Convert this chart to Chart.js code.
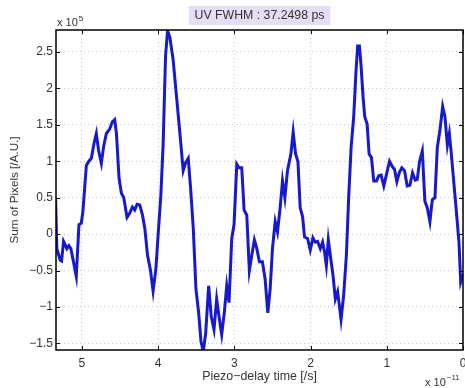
<!DOCTYPE html>
<html>
<head>
<meta charset="utf-8">
<script src="https://cdn.jsdelivr.net/npm/chart.js@4/dist/chart.umd.min.js"></script>
<style>
  html, body { margin: 0; padding: 0; background: #fff; }
  #wrap { width: 465px; height: 388px; }
</style>
</head>
<body>
<div id="wrap"><canvas id="scanChart" width="465" height="388"></canvas></div>
<script>
// Piezo delay (x 1e-11 s) and summed pixel signal (x 1e5 A.U.)
const delayTimes = [
    5.346, 5.329, 5.284, 5.267, 5.241, 5.214, 5.197, 5.171, 5.145, 5.118,
    5.074, 5.039, 5.008, 4.987, 4.942, 4.908, 4.876, 4.842, 4.811, 4.780,
    4.745, 4.714, 4.679, 4.636, 4.600, 4.570, 4.547, 4.513, 4.482, 4.451,
    4.408, 4.372, 4.337, 4.307, 4.276, 4.241, 4.205, 4.175, 4.139, 4.100,
    4.066, 4.030, 4.000, 3.964, 3.934, 3.903, 3.876, 3.846, 3.803, 3.758,
    3.714, 3.671, 3.639, 3.605, 3.574, 3.539, 3.504, 3.468, 3.438, 3.408,
    3.376, 3.337, 3.303, 3.267, 3.232, 3.201, 3.166, 3.132, 3.100, 3.070,
    3.034, 3.004, 2.968, 2.938, 2.903, 2.872, 2.837, 2.803, 2.771, 2.737,
    2.705, 2.671, 2.632, 2.596, 2.561, 2.530, 2.500, 2.464, 2.434, 2.399,
    2.368, 2.337, 2.303, 2.258, 2.228, 2.197, 2.166, 2.136, 2.105, 2.079,
    2.039, 2.004, 1.969, 1.938, 1.908, 1.872, 1.842, 1.816, 1.793, 1.767,
    1.741, 1.705, 1.675, 1.645, 1.600, 1.566, 1.530, 1.500, 1.468, 1.434,
    1.403, 1.382, 1.359, 1.337, 1.311, 1.289, 1.258, 1.232, 1.201, 1.171,
    1.136, 1.105, 1.074, 1.039, 1.004, 0.964, 0.929, 0.899, 0.868, 0.837,
    0.803, 0.767, 0.732, 0.697, 0.662, 0.626, 0.600, 0.570, 0.534, 0.500,
    0.468, 0.434, 0.403, 0.368, 0.337, 0.303, 0.267, 0.237, 0.205, 0.179,
    0.153, 0.118, 0.087, 0.053, 0.030, 0.004, 0.000
];
const pixelSums = [
    0.50, -0.20, -0.36, -0.37, -0.10, -0.16, -0.20, -0.16, -0.20, -0.34,
    -0.58, 0.13, 0.15, 0.31, 0.94, 1.00, 1.04, 1.24, 1.38, 1.14,
    0.97, 1.21, 1.38, 1.44, 1.54, 1.57, 1.38, 0.77, 0.56, 0.50,
    0.23, 0.29, 0.37, 0.33, 0.41, 0.40, 0.26, 0.08, -0.29, -0.50,
    -0.78, -0.48, -0.01, 0.54, 1.24, 2.44, 2.79, 2.70, 2.39, 1.88,
    1.38, 0.87, 0.98, 1.04, 0.63, 0.08, -0.75, -1.08, -1.47, -1.61,
    -1.36, -0.71, -1.13, -1.31, -0.89, -1.13, -1.38, -1.08, -0.71, -0.94,
    -0.06, 0.13, 0.96, 0.91, 0.91, 0.33, 0.26, -0.50, -0.29, -0.08,
    -0.20, -0.38, -0.38, -0.62, -1.08, -0.75, -0.20, 0.17, 0.03, 0.36,
    0.73, 0.50, 0.87, 1.10, 1.40, 1.10, 1.00, 0.36, 0.24, -0.04,
    -0.06, -0.22, -0.05, -0.11, -0.10, -0.20, -0.11, -0.25, -0.43, -0.08,
    -0.29, -0.57, -0.89, -0.79, -1.17, -0.84, -0.29, 0.50, 1.19, 1.61,
    2.25, 2.58, 2.58, 2.30, 1.88, 1.61, 1.51, 1.10, 1.05, 0.73,
    0.73, 0.80, 0.81, 0.66, 0.82, 1.00, 0.93, 0.89, 0.72, 0.84,
    0.91, 0.87, 0.66, 0.67, 0.84, 0.74, 0.75, 1.00, 1.14, 0.45,
    0.36, 0.17, 0.47, 0.50, 1.19, 1.42, 1.75, 1.61, 1.22, 1.38,
    1.10, 0.68, 0.31, -0.11, -0.66, -0.57, -0.55
];
const xTickValues = [0, 1, 2, 3, 4, 5];
const yTickValues = [-1.5, -1, -0.5, 0, 0.5, 1, 1.5, 2, 2.5];

const FONT = '"Liberation Sans", Arial, Helvetica, sans-serif';
const TEXT = '#333333';

// axes box, inward ticks, title box and the power-of-ten labels
const matlabFrame = {
    id: 'matlabFrame',
    afterDraw(chart) {
        const ctx = chart.ctx;
        const a = chart.chartArea;
        const sx = chart.scales.x, sy = chart.scales.y;
        ctx.save();
        ctx.strokeStyle = '#000';
        ctx.lineWidth = 1;
        ctx.beginPath();
        xTickValues.forEach(v => {
            const px = Math.round(sx.getPixelForValue(v)) + 0.5;
            ctx.moveTo(px, a.bottom); ctx.lineTo(px, a.bottom - 4);
            ctx.moveTo(px, a.top); ctx.lineTo(px, a.top + 4);
        });
        yTickValues.forEach(v => {
            const py = Math.round(sy.getPixelForValue(v)) + 0.5;
            ctx.moveTo(a.left, py); ctx.lineTo(a.left + 4, py);
            ctx.moveTo(a.right, py); ctx.lineTo(a.right - 4, py);
        });
        ctx.stroke();
        ctx.lineWidth = 1.5;
        ctx.strokeRect(a.left, a.top, a.right - a.left, a.bottom - a.top);

        // title with shaded background
        const title = 'UV FWHM : 37.2498 ps';
        const cx = (a.left + a.right) / 2;
        ctx.font = '12.3px ' + FONT;
        const tw = ctx.measureText(title).width;
        ctx.fillStyle = '#e7ddf5';
        ctx.fillRect(cx - tw / 2 - 6, 6, tw + 12, 19);
        ctx.fillStyle = TEXT;
        ctx.textAlign = 'center';
        ctx.textBaseline = 'middle';
        ctx.fillText(title, cx, 16);

        // exponent labels
        ctx.textAlign = 'left';
        ctx.textBaseline = 'alphabetic';
        ctx.font = '11px ' + FONT;
        ctx.fillText('x 10', 57, 26);
        let w = ctx.measureText('x 10').width;
        ctx.font = '8px ' + FONT;
        ctx.fillText('5', 57 + w + 1, 21);

        ctx.font = '11px ' + FONT;
        ctx.fillText('x 10', 425, 386);
        w = ctx.measureText('x 10').width;
        ctx.font = '8px ' + FONT;
        ctx.fillText('\u221211', 425 + w + 1, 380);
        ctx.restore();
    }
};

const fmt = v => String(v).replace('-', '\u2212');

const scanCtx = document.getElementById('scanChart').getContext('2d');
const scanChart = new Chart(scanCtx, {
    type: 'line',
    data: {
        datasets: [{
            data: delayTimes.map((t, i) => ({ x: t, y: pixelSums[i] })),
            borderColor: '#1818cc',
            borderWidth: 3,
            pointRadius: 0,
            tension: 0,
            fill: false
        }]
    },
    options: {
        responsive: false,
        animation: false,
        layout: { padding: { left: 0, top: 30, right: 2, bottom: 0 } },
        plugins: {
            legend: { display: false },
            tooltip: { enabled: false }
        },
        scales: {
            x: {
                type: 'linear',
                reverse: true,
                min: 0,
                max: 5.34,
                afterFit(scale) { scale.height = 38; },
                afterBuildTicks(scale) { scale.ticks = xTickValues.map(v => ({ value: v })); },
                grid: { color: '#c4c4c4', drawTicks: false },
                border: { display: false, dash: [1, 3] },
                ticks: {
                    padding: 6,
                    color: TEXT,
                    font: { size: 12, family: FONT },
                    callback: v => fmt(v)
                },
                title: {
                    display: true,
                    text: 'Piezo\u2212delay time [/s]',
                    color: TEXT,
                    font: { size: 12.4, family: FONT },
                    padding: { top: 0, bottom: 4 }
                }
            },
            y: {
                min: -1.59,
                max: 2.8,
                afterFit(scale) { scale.width = 56; },
                afterBuildTicks(scale) { scale.ticks = yTickValues.map(v => ({ value: v })); },
                grid: { color: '#c4c4c4', drawTicks: false },
                border: { display: false, dash: [1, 3] },
                ticks: {
                    padding: 3,
                    color: TEXT,
                    font: { size: 12, family: FONT },
                    callback: v => fmt(v)
                },
                title: {
                    display: true,
                    text: 'Sum of Pixels [/A.U.]',
                    color: TEXT,
                    font: { size: 11.7, family: FONT },
                    padding: { top: 8, bottom: 0 }
                }
            }
        }
    },
    plugins: [matlabFrame]
});
</script>
</body>
</html>
